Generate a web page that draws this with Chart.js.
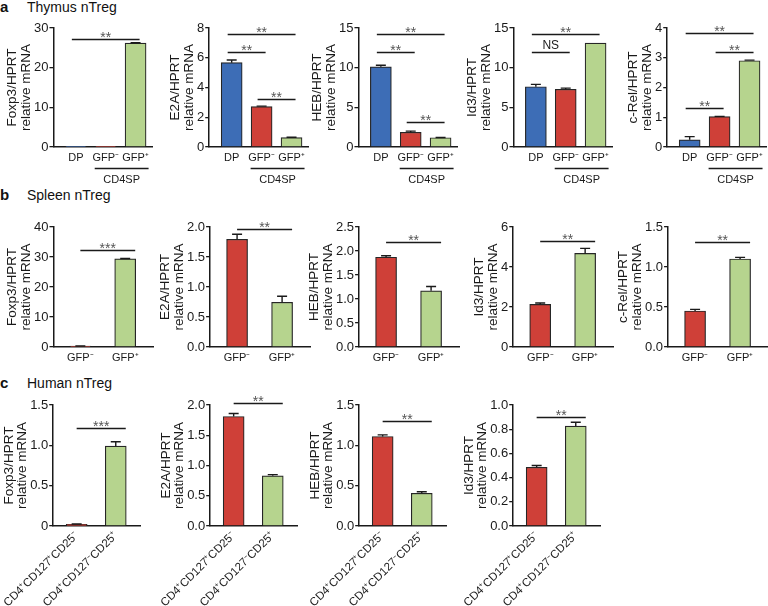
<!DOCTYPE html>
<html>
<head>
<meta charset="utf-8">
<script src="https://cdn.jsdelivr.net/npm/chart.js@4.4.1/dist/chart.umd.min.js"></script>
<style>
  body { margin: 0; width: 768px; height: 606px; position: relative; overflow: hidden; background: #fff;
         font-family: "Liberation Sans", Arial, sans-serif; color: #111; }
  .head { position: absolute; left: 0; font-size: 14px; line-height: 16px; white-space: nowrap; }
  .head b { display: inline-block; width: 27px; font-size: 15px; }
  canvas { position: absolute; }
</style>
</head>
<body>
<div class="head" style="top:-1px"><b>a</b>Thymus nTreg</div>
<div class="head" style="top:187px"><b>b</b>Spleen nTreg</div>
<div class="head" style="top:375px"><b>c</b>Human nTreg</div>
<script>
// a: thymus
const thymusCats = ["DP", "GFP⁻", "GFP⁺"];
const thymusGroup = "CD4SP";
const thymusGroupMembers = [1, 2];

const thymusFoxp3 = [0.1, 0.1, 26.2];
const thymusFoxp3Err = [0, 0, 0.1];
const thymusFoxp3Ticks = ["0", "10", "20", "30"];
const thymusFoxp3Sig = [[0, 2, 27.2, "**"]];

const thymusE2A = [5.67, 2.72, 0.63];
const thymusE2AErr = [0.18, 0.03, 0.03];
const thymusE2ATicks = ["0", "2", "4", "6", "8"];
const thymusE2ASig = [[0, 2, 7.6, "**"], [0, 1, 6.4, "**"], [1, 2, 3.2, "**"]];

const thymusHEB = [10.1, 1.85, 1.17];
const thymusHEBErr = [0.2, 0.15, 0.03];
const thymusHEBTicks = ["0", "5", "10", "15"];
const thymusHEBSig = [[0, 2, 14.3, "**"], [0, 1, 12.0, "**"], [1, 2, 3.1, "**"]];

const thymusId3 = [7.6, 7.27, 13.1];
const thymusId3Err = [0.3, 0.15, 0];
const thymusId3Ticks = ["0", "5", "10", "15"];
const thymusId3Sig = [[0, 2, 14.3, "**"], [0, 1, 12.0, "NS"]];

const thymusCRel = [0.24, 1.02, 2.9];
const thymusCRelErr = [0.11, 0.01, 0.02];
const thymusCRelTicks = ["0", "1", "2", "3", "4"];
const thymusCRelSig = [[0, 2, 3.82, "**"], [1, 2, 3.2, "**"], [0, 1, 1.3, "**"]];

// b: spleen
const spleenCats = ["GFP⁻", "GFP⁺"];

const spleenFoxp3 = [0.3, 29.4];
const spleenFoxp3Err = [0.05, 0.1];
const spleenFoxp3Ticks = ["0", "10", "20", "30", "40"];
const spleenFoxp3Sig = [[0, 1, 32.5, "***"]];

const spleenE2A = [1.795, 0.745];
const spleenE2AErr = [0.085, 0.1];
const spleenE2ATicks = ["0.0", "0.5", "1.0", "1.5", "2.0"];
const spleenE2ASig = [[0, 1, 1.97, "**"]];

const spleenHEB = [1.87, 1.17];
const spleenHEBErr = [0.03, 0.09];
const spleenHEBTicks = ["0.0", "0.5", "1.0", "1.5", "2.0", "2.5"];
const spleenHEBSig = [[0, 1, 2.18, "**"]];

const spleenId3 = [2.13, 4.68];
const spleenId3Err = [0.07, 0.25];
const spleenId3Ticks = ["0", "2", "4", "6"];
const spleenId3Sig = [[0, 1, 5.3, "**"]];

const spleenCRel = [0.45, 1.1];
const spleenCRelErr = [0.02, 0.02];
const spleenCRelTicks = ["0.0", "0.5", "1.0", "1.5"];
const spleenCRelSig = [[0, 1, 1.31, "**"]];

// c: human
const humanCats = ["CD4⁺CD127⁺CD25⁻", "CD4⁺CD127⁻CD25⁺"];

const humanFoxp3 = [0.02, 0.99];
const humanFoxp3Err = [0.005, 0.055];
const humanFoxp3Ticks = ["0", "0.5", "1.0", "1.5"];
const humanFoxp3Sig = [[0, 1, 1.21, "***"]];

const humanE2A = [1.81, 0.83];
const humanE2AErr = [0.05, 0.02];
const humanE2ATicks = ["0.0", "0.5", "1.0", "1.5", "2.0"];
const humanE2ASig = [[0, 1, 2.03, "**"]];

const humanHEB = [1.11, 0.405];
const humanHEBErr = [0.02, 0.02];
const humanHEBTicks = ["0.0", "0.5", "1.0", "1.5"];
const humanHEBSig = [[0, 1, 1.305, "**"]];

const humanId3 = [0.485, 0.826];
const humanId3Err = [0.015, 0.031];
const humanId3Ticks = ["0.0", "0.2", "0.4", "0.6", "0.8", "1.0"];
const humanId3Sig = [[0, 1, 0.9, "**"]];

const BLUE = "#3d6db6", RED = "#cf4038", GREEN = "#b6d48e", INK = "#1a1a1a";
const FONT = "'Liberation Sans', Arial, sans-serif";

const rows = {
  a: { top: 28, h: 119, w: 99, axisX: [53, 209, 358, 513, 667], xH: 45, xMin: -0.75, xMax: 2.55,
       colors: [BLUE, RED, GREEN], rot: 0, catSize: 11, catPad: 4, cats: thymusCats, sigL: -4, sigR: 4 },
  b: { top: 227, h: 120, w: 100, axisX: [53, 210, 359, 513, 668], xH: 25, xMin: -0.6, xMax: 1.62,
       colors: [RED, GREEN], rot: 0, catSize: 11, catPad: 4, cats: spleenCats, sigL: 0, sigR: 10 },
  c: { top: 405, h: 121, w: 100, axisX: [53, 210, 359, 513], xH: 85, xMin: -0.6, xMax: 1.62,
       colors: [RED, GREEN], rot: 45, catSize: 11.5, catPad: 3, cats: humanCats, sigL: 0, sigR: 10 }
};

const panels = [
  ["a", 0, "Foxp3", thymusFoxp3, thymusFoxp3Err, thymusFoxp3Ticks, thymusFoxp3Sig],
  ["a", 1, "E2A", thymusE2A, thymusE2AErr, thymusE2ATicks, thymusE2ASig],
  ["a", 2, "HEB", thymusHEB, thymusHEBErr, thymusHEBTicks, thymusHEBSig],
  ["a", 3, "Id3", thymusId3, thymusId3Err, thymusId3Ticks, thymusId3Sig],
  ["a", 4, "c-Rel", thymusCRel, thymusCRelErr, thymusCRelTicks, thymusCRelSig],
  ["b", 0, "Foxp3", spleenFoxp3, spleenFoxp3Err, spleenFoxp3Ticks, spleenFoxp3Sig],
  ["b", 1, "E2A", spleenE2A, spleenE2AErr, spleenE2ATicks, spleenE2ASig],
  ["b", 2, "HEB", spleenHEB, spleenHEBErr, spleenHEBTicks, spleenHEBSig],
  ["b", 3, "Id3", spleenId3, spleenId3Err, spleenId3Ticks, spleenId3Sig],
  ["b", 4, "c-Rel", spleenCRel, spleenCRelErr, spleenCRelTicks, spleenCRelSig],
  ["c", 0, "Foxp3", humanFoxp3, humanFoxp3Err, humanFoxp3Ticks, humanFoxp3Sig],
  ["c", 1, "E2A", humanE2A, humanE2AErr, humanE2ATicks, humanE2ASig],
  ["c", 2, "HEB", humanHEB, humanHEBErr, humanHEBTicks, humanHEBSig],
  ["c", 3, "Id3", humanId3, humanId3Err, humanId3Ticks, humanId3Sig]
];

// error bars, significance brackets and the CD4SP group line
function marksPlugin(row, vals, errs, sig) {
  return {
    id: "marks",
    afterDatasetsDraw(chart) {
      const { ctx, scales: { x, y } } = chart;
      ctx.save();
      ctx.strokeStyle = INK;
      ctx.fillStyle = INK;
      ctx.lineWidth = 1.4;
      vals.forEach((v, i) => {
        if (!errs[i]) return;
        const cx = x.getPixelForValue(i);
        const y0 = y.getPixelForValue(v), y1 = y.getPixelForValue(v + errs[i]);
        ctx.beginPath();
        ctx.moveTo(cx, y0); ctx.lineTo(cx, y1);
        ctx.moveTo(cx - 5, y1); ctx.lineTo(cx + 5, y1);
        ctx.stroke();
      });
      ctx.textAlign = "center";
      ctx.textBaseline = "alphabetic";
      sig.forEach(([i, j, level, label]) => {
        const x1 = x.getPixelForValue(i) + row.sigL, x2 = x.getPixelForValue(j) + row.sigR;
        const ly = Math.round(y.getPixelForValue(level)) + 0.5;
        ctx.beginPath(); ctx.moveTo(x1, ly); ctx.lineTo(x2, ly); ctx.stroke();
        if (label === "NS") {
          ctx.font = "12px " + FONT;
          ctx.fillText(label, (x1 + x2) / 2, ly - 3.5);
        } else {
          ctx.font = "14px " + FONT;
          ctx.fillStyle = "#555";
          ctx.fillText(label, (x1 + x2) / 2, ly + 2.5);
          ctx.fillStyle = INK;
        }
      });
      if (row === rows.a) {
        const [g0, g1] = thymusGroupMembers;
        const gy = Math.round(chart.chartArea.bottom + 21) + 0.5;
        const gx1 = x.getPixelForValue(g0) - 11, gx2 = x.getPixelForValue(g1) + 13;
        ctx.beginPath(); ctx.moveTo(gx1, gy); ctx.lineTo(gx2, gy); ctx.stroke();
        ctx.font = "11px " + FONT;
        ctx.textBaseline = "middle";
        ctx.fillText(thymusGroup, (gx1 + gx2) / 2, gy + 11);
      }
      ctx.restore();
    }
  };
}

panels.forEach(([r, col, gene, vals, errs, tickStrs, sig]) => {
  const row = rows[r];
  const tickVals = tickStrs.map(parseFloat);
  const canvas = document.createElement("canvas");
  const H = 20 + row.h + row.xH;
  canvas.width = 260;
  canvas.height = H;
  document.body.appendChild(canvas);

  const chart = new Chart(canvas, {
    type: "bar",
    data: {
      datasets: [{
        data: vals.map((v, i) => ({ x: i, y: v })),
        backgroundColor: row.colors,
        borderColor: "#262626",
        borderWidth: 1.2,
        barThickness: 21
      }]
    },
    options: {
      responsive: false,
      maintainAspectRatio: false,
      animation: false,
      events: [],
      layout: { padding: { top: 20, right: 10, bottom: 0, left: 0 } },
      plugins: { legend: { display: false }, tooltip: { enabled: false } },
      scales: {
        x: {
          type: "linear",
          offset: false,
          min: row.xMin,
          max: row.xMax,
          afterBuildTicks: s => { s.ticks = row.cats.map((c, i) => ({ value: i })); },
          afterFit: s => { s.height = row.xH; },
          ticks: {
            callback: v => row.cats[v],
            autoSkip: false,
            minRotation: row.rot,
            maxRotation: row.rot,
            padding: row.catPad,
            color: INK,
            font: { family: FONT, size: row.catSize }
          },
          grid: { display: false, offset: false, drawTicks: false, tickLength: 0 },
          border: { display: true, color: INK, width: 1.5 }
        },
        y: {
          min: tickVals[0],
          max: tickVals[tickVals.length - 1],
          afterBuildTicks: s => { s.ticks = tickVals.map(v => ({ value: v })); },
          ticks: {
            callback: (v, i) => tickStrs[i],
            padding: 1,
            color: INK,
            font: { family: FONT, size: 13 }
          },
          grid: { display: true, drawOnChartArea: false, drawTicks: true, tickLength: 4, color: INK, lineWidth: 1.3 },
          border: { display: true, color: INK, width: 1.5 },
          title: {
            display: true,
            text: [gene + "/HPRT", "relative mRNA"],
            color: INK,
            font: { family: FONT, size: 13.5, lineHeight: 1.0 },
            padding: { top: 0, bottom: 0 }
          }
        }
      }
    },
    plugins: [marksPlugin(row, vals, errs, sig)]
  });

  // shrink the canvas so the plot box is the reference width, then slide it into place
  const left = chart.chartArea.left;
  chart.resize(Math.round(left + row.w + 10), H);
  const a = chart.chartArea;
  canvas.style.left = (row.axisX[col] - a.left) + "px";
  canvas.style.top = (row.top - a.top) + "px";
});
</script>
</body>
</html>
